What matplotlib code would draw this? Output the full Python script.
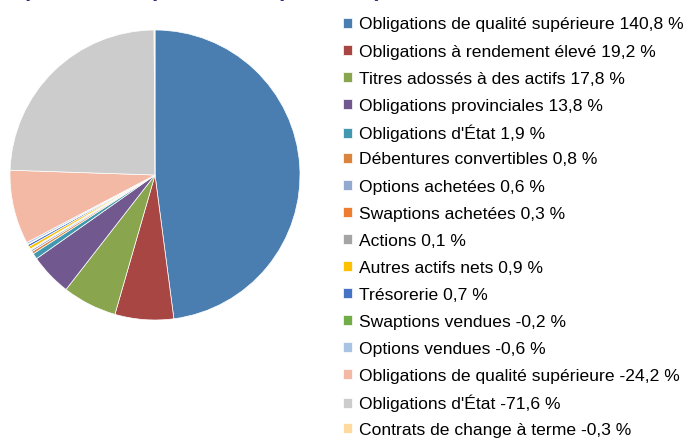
import matplotlib.pyplot as plt

labels = [
    "Obligations de qualité supérieure",
    "Obligations à rendement élevé",
    "Titres adossés à des actifs",
    "Obligations provinciales",
    "Obligations d'État",
    "Débentures convertibles",
    "Options achetées",
    "Swaptions achetées",
    "Actions",
    "Autres actifs nets",
    "Trésorerie",
    "Swaptions vendues",
    "Options vendues",
    "Obligations de qualité supérieure",
    "Obligations d'État",
    "Contrats de change à terme",
]
weights = [140.8, 19.2, 17.8, 13.8, 1.9, 0.8, 0.6, 0.3, 0.1, 0.9, 0.7,
           -0.2, -0.6, -24.2, -71.6, -0.3]
colors = [
    "#4A7EB0", "#A84644", "#89A54E", "#71588F", "#4198AF", "#DB843D",
    "#93A9CF", "#ED7D31", "#A5A5A5", "#FFC000", "#4472C4", "#70AD47",
    "#A9C4E3", "#F3B9A5", "#CCCCCC", "#FFDA9E",
]

W, H = 686, 440
fig = plt.figure(figsize=(W / 100, H / 100), dpi=100)

# pie: centre ~ (155, 175) px, radius ~145 px
cx, cy, r = 155, 175, 145
ax = fig.add_axes([(cx - r) / W, (H - cy - r) / H, 2 * r / W, 2 * r / H])
wedges, _ = ax.pie(
    [abs(w) for w in weights],
    colors=colors,
    startangle=90,
    counterclock=False,
    wedgeprops=dict(edgecolor="white", linewidth=0.5),
)
ax.set_xlim(-1, 1)
ax.set_ylim(-1, 1)
ax.set_aspect("equal")

# title mostly cut off at the top of the image
fig.text(-3 / W, 1 + 3.5 / H, "Répartition du portefeuille (en % net)",
         fontsize=15.8, fontweight="bold", color="#2B3078",
         family="Liberation Sans", va="baseline", ha="left")

# one legend per row so the spacing stays even (accented capitals
# would otherwise make some rows taller)
row_top, row_step = 25, 27
for i, (w, lab, wt) in enumerate(zip(wedges, labels, weights)):
    text = f"{lab} {wt:.1f} %".replace(".", ",")
    fig.legend(
        [w], [text],
        loc="center left", bbox_to_anchor=(343 / W, 1 - (row_top + i * row_step) / H),
        frameon=False, borderpad=0, borderaxespad=0,
        prop=dict(family="Liberation Sans", size=12.6),
        handlelength=0.5, handleheight=0.5, handletextpad=0.4,
    )

fig.savefig("out.png", dpi=100)
